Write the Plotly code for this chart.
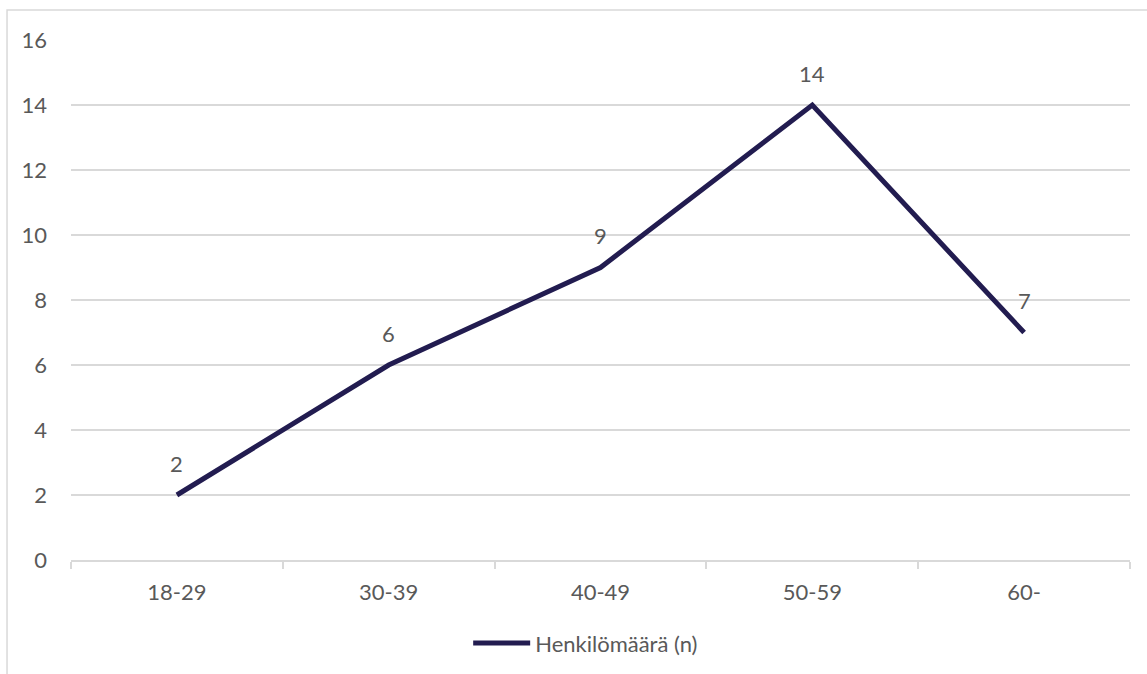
import plotly.graph_objects as go

categories = ["18-29", "30-39", "40-49", "50-59", "60-"]
values = [2, 6, 9, 14, 7]
series_name = "Henkilömäärä (n)"
y_ticks = [0, 2, 4, 6, 8, 10, 12, 14, 16]

LINE = "#221c50"
TXT = "#595959"
GRID = "#d9d9d9"
FONT = "Lato"
FS = 22

fig = go.Figure()
fig.add_trace(go.Scatter(
    x=categories, y=values, mode="lines", name=series_name,
    line=dict(color=LINE, width=5),
    showlegend=True,
))

for c, v in zip(categories, values):
    fig.add_annotation(x=c, y=v, text=str(v), showarrow=False, yshift=32,
                       font=dict(family=FONT, size=FS, color=TXT))

fig.add_shape(type="rect", xref="paper", yref="paper",
              x0=-0.0604, x1=1.03, y0=-0.25, y1=1.0577,
              line=dict(color=GRID, width=1.5), layer="below")

fig.update_layout(
    width=1147, height=674,
    margin=dict(l=71, r=17, t=40, b=114, autoexpand=False),
    paper_bgcolor="white", plot_bgcolor="white",
    font=dict(family=FONT, size=FS, color=TXT),
    showlegend=True,
    legend=dict(orientation="h", x=0.486, xanchor="center", y=-0.16, yanchor="middle",
                font=dict(family=FONT, size=FS, color=TXT), itemwidth=57,
                bgcolor="rgba(0,0,0,0)"),
    xaxis=dict(type="category", range=[-0.5, 4.5], showgrid=False, automargin=False,
               showline=True, linecolor=GRID, linewidth=1.5,
               ticks="outside", tickson="boundaries", ticklen=7, tickcolor=GRID, tickwidth=1.5,
               ticklabelstandoff=12,
               tickfont=dict(family=FONT, size=FS, color=TXT), fixedrange=True),
    yaxis=dict(range=[0, 16], tickvals=y_ticks, showgrid=True, gridcolor=GRID, gridwidth=1.5,
               zeroline=False, showline=False, ticks="", automargin=False,
               ticklabelstandoff=23,
               tickfont=dict(family=FONT, size=FS, color=TXT), fixedrange=True),
)

fig.write_html("out.html")
